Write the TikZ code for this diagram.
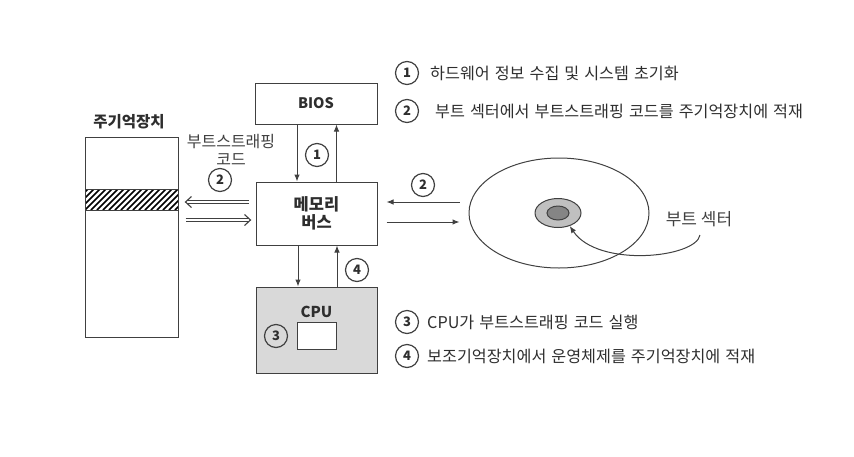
\documentclass[tikz,border=0pt]{standalone}
\usepackage{fontspec}
\setmainfont{Noto Sans CJK KR}
\usetikzlibrary{arrows.meta,shapes.geometric,calc}
\definecolor{ln}{HTML}{404040}
\definecolor{tx}{HTML}{2E2E2E}
\definecolor{cpugray}{HTML}{D9D9D9}
\definecolor{ringgray}{HTML}{C0C0C0}
\definecolor{coregray}{HTML}{858585}
\newcommand{\legfont}{\fontsize{16.2}{19}\selectfont\spaceskip=5pt plus 1pt\relax}
\begin{document}
\begin{tikzpicture}[x=1pt,y=-1pt,
  box/.style={draw=ln, line width=1pt, rectangle, inner sep=0pt, text=tx,
    font=\bfseries\fontsize{14.5}{17}\selectfont, align=center},
  num/.style={circle, draw=ln, line width=1.2pt, minimum size=23pt, inner sep=0pt,
    font=\bfseries\fontsize{13}{13}\selectfont, text=tx},
  arr/.style={draw=ln, line width=1pt, -{Latex[length=7pt,width=5.5pt]}},
  dbl/.style={draw=ln, double=white, double distance=2.6pt, line width=0.9pt},
  chev/.style={draw=ln, line width=1.1pt, line join=miter},
  lbl/.style={text=tx, font=\fontsize{16}{18}\selectfont, align=center, inner sep=0pt},
  leg/.style={text=tx, font=\legfont, anchor=west, inner sep=0pt}]
\useasboundingbox (0,0) rectangle (854,456);

% main memory
\node[box, minimum width=93pt, minimum height=200pt] (mem) at (131.5,237) {};
\fill[white] (85,189) rectangle (178,210);
\begin{scope}
  \clip (85,189) rectangle (178,210);
  \foreach \i in {-30,-24,...,120} \draw[black, line width=1.5pt] (85+\i,210) -- (85+\i+21,189);
\end{scope}
\draw[ln, line width=1pt] (85,189) rectangle (178,210);
\node[lbl, font=\bfseries\fontsize{15.5}{17}\selectfont] (memtitle) at (129,122) {주기억장치};

% boxes
\node[box, minimum width=122pt, minimum height=41pt] (bios) at (316,103.5) {BIOS};
\node[box, font=\bfseries\fontsize{16.5}{18}\selectfont, minimum width=121pt, minimum height=63pt] (bus) at (316.5,213.5) {메모리\\버스};
\node[box, fill=cpugray, minimum width=121pt, minimum height=86pt] (cpu) at (316.5,330) {};
\node[lbl, font=\bfseries\fontsize{15}{17}\selectfont] (cputxt) at (316.5,312) {CPU};
\node[box, fill=white, minimum width=39pt, minimum height=27pt] (reg) at (316.5,335.5) {};
\node[num] (n3a) at (276,336) {3};

% bios <-> bus
\draw[arr] ([xshift=-19pt]bios.south) -- ([xshift=-19pt]bios.south |- bus.north);
\draw[arr] ([xshift=20pt]bus.north) -- ([xshift=20pt]bus.north |- bios.south);
\node[num] (n1a) at (317,155) {1};

% bus <-> cpu
\draw[arr] ([xshift=-18.5pt]bus.south) -- ([xshift=-18.5pt]bus.south |- cpu.north);
\draw[arr] ([xshift=20.5pt]cpu.north) -- ([xshift=20.5pt]cpu.north |- bus.south);
\node[num] (n4a) at (357,270) {4};

% memory <-> bus double arrows
\coordinate (dl) at ($(mem.east |- bus.west)+(7,-11.5)$);
\coordinate (dr) at ($(bus.west)+(-5,6.5)$);
\draw[dbl] ($(bus.west)+(-7,-11.5)$) -- ($(dl)+(1.5,0)$);
\draw[chev] ($(dl)+(6,-5.5)$) -- (dl) -- ($(dl)+(6,5.5)$);
\draw[dbl] ($(mem.east |- bus.west)+(7,6.5)$) -- ($(dr)+(-1.5,0)$);
\draw[chev] ($(dr)+(-6,-5.5)$) -- (dr) -- ($(dr)+(-6,5.5)$);
\node[num] (n2a) at (220,180) {2};
\node[lbl, text=ln] (bootcode) at (231,150) {부트스트래핑\\코드};

% disk
\node[ellipse, draw=ln, line width=1pt, minimum width=180pt, minimum height=110pt, inner sep=0pt] (disk) at (559,213) {};
\node[ellipse, draw=ln, line width=1pt, fill=ringgray, minimum width=46pt, minimum height=29pt, inner sep=0pt] (ring) at (558,213) {};
\node[ellipse, draw=ln, line width=1pt, fill=coregray, minimum width=22pt, minimum height=14pt, inner sep=0pt] (core) at (558,213) {};

% bus <-> disk
\draw[arr] ($(disk.west)+(-9,-11)$) -- ($(bus.east)+(9,-11.5)$);
\draw[arr] ($(bus.east)+(9,8.5)$) -- ($(disk.west)+(-9,9)$);
\node[num] (n2b) at (423,185) {2};

% boot sector label
\node[lbl, text=ln, font=\fontsize{17}{19}\selectfont] (bootsec) at (699,219) {부트 섹터};
\coordinate (bsstart) at (700,235);
\draw[arr] (bsstart) .. controls (696,258) and (598,268) .. (ring.-48);

% legend
\node[num] (l1) at (407,73) {1};
\node[leg] (t1) at (430,73) {하드웨어 정보 수집 및 시스템 초기화};
\node[num] (l2) at (407,111) {2};
\node[leg] (t2) at (435,111) {부트 섹터에서 부트스트래핑 코드를 주기억장치에 적재};
\node[num] (l3) at (407,322) {3};
\node[leg] (t3) at (427,322) {CPU가 부트스트래핑 코드 실행};
\node[num] (l4) at (407,356) {4};
\node[leg] (t4) at (427,356) {보조기억장치에서 운영체제를 주기억장치에 적재};
\end{tikzpicture}
\end{document}
